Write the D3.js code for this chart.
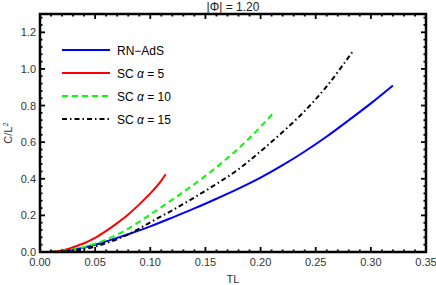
<!DOCTYPE html>
<html>
<head>
<meta charset="utf-8">
<script src="https://cdn.jsdelivr.net/npm/d3@7"></script>
<style>
  body { margin: 0; background: #fff; }
  text { font-family: "Liberation Sans", Arial, sans-serif; }
</style>
</head>
<body>
<div id="chart"></div>
<script>
// data
var tlRN   = [0.008, 0.02, 0.03, 0.04, 0.05, 0.06, 0.07, 0.08, 0.09, 0.10, 0.12, 0.14, 0.16, 0.18, 0.20, 0.22, 0.24, 0.26, 0.28, 0.30, 0.32];
var cRN    = [0.0, 0.005, 0.014, 0.025, 0.04, 0.058, 0.077, 0.097, 0.118, 0.14, 0.188, 0.238, 0.291, 0.346, 0.406, 0.474, 0.549, 0.631, 0.72, 0.812, 0.91];

var tlSC5  = [0.01, 0.02, 0.03, 0.04, 0.05, 0.06, 0.07, 0.08, 0.09, 0.10, 0.11, 0.114];
var cSC5   = [0.0, 0.008, 0.026, 0.048, 0.077, 0.115, 0.158, 0.205, 0.26, 0.32, 0.39, 0.425];

var tlSC10 = [0.01, 0.02, 0.03, 0.04, 0.05, 0.06, 0.07, 0.08, 0.09, 0.10, 0.11, 0.12, 0.13, 0.14, 0.15, 0.16, 0.17, 0.18, 0.19, 0.20, 0.213];
var cSC10  = [0.0, 0.005, 0.014, 0.027, 0.045, 0.068, 0.095, 0.128, 0.165, 0.205, 0.245, 0.286, 0.328, 0.371, 0.416, 0.463, 0.513, 0.566, 0.623, 0.684, 0.769];

var tlSC15 = [0.01, 0.02, 0.03, 0.04, 0.05, 0.06, 0.07, 0.08, 0.09, 0.10, 0.12, 0.14, 0.16, 0.18, 0.20, 0.22, 0.24, 0.26, 0.283];
var cSC15  = [0.0, 0.002, 0.007, 0.016, 0.03, 0.048, 0.07, 0.096, 0.128, 0.162, 0.228, 0.298, 0.372, 0.452, 0.55, 0.655, 0.77, 0.905, 1.091];

var seriesNames = ["RN\u2212AdS", "SC \u03b1 = 5", "SC \u03b1 = 10", "SC \u03b1 = 15"];
var xTicks = [0, 0.05, 0.10, 0.15, 0.20, 0.25, 0.30, 0.35];
var yTicks = [0, 0.2, 0.4, 0.6, 0.8, 1.0, 1.2];

var width = 436, height = 285;
var margin = {top: 14, right: 10, bottom: 33, left: 40};
var w = width - margin.left - margin.right;
var h = height - margin.top - margin.bottom;

var svg = d3.select("#chart").append("svg")
    .attr("width", width)
    .attr("height", height);

var g = svg.append("g")
    .attr("transform", "translate(" + margin.left + "," + margin.top + ")");

var x = d3.scaleLinear().domain([0, 0.35]).range([0, w]);
var y = d3.scaleLinear().domain([0, 1.3]).range([h, 0]);

var series = [
    {name: seriesNames[0], tl: tlRN,   c: cRN,   color: "#0000ff", dash: null},
    {name: seriesNames[1], tl: tlSC5,  c: cSC5,  color: "#ff0000", dash: null},
    {name: seriesNames[2], tl: tlSC10, c: cSC10, color: "#00ff00", dash: "6,4"},
    {name: seriesNames[3], tl: tlSC15, c: cSC15, color: "#000000", dash: "5,3,1.5,3"}
];

var line = d3.line()
    .x(function(d) { return x(d[0]); })
    .y(function(d) { return y(d[1]); })
    .curve(d3.curveMonotoneX);

// curves
series.forEach(function(s) {
    var pts = s.tl.map(function(t, i) { return [t, s.c[i]]; });
    g.append("path")
        .datum(pts)
        .attr("fill", "none")
        .attr("stroke", s.color)
        .attr("stroke-width", 2)
        .attr("stroke-dasharray", s.dash)
        .attr("d", line);
});

// ticks (inside, mirrored)
var xMinor = d3.range(0, 0.3501, 0.01);
var yMinor = d3.range(0, 1.3001, 0.04);

function isMajor(v, list) {
    return list.some(function(t) { return Math.abs(t - v) < 1e-6; });
}

var tickG = g.append("g").attr("stroke", "#000").attr("stroke-width", 1.8);
xMinor.forEach(function(v) {
    var len = isMajor(v, xTicks) ? 5 : 2.5;
    tickG.append("line").attr("x1", x(v)).attr("x2", x(v)).attr("y1", h).attr("y2", h - len);
    tickG.append("line").attr("x1", x(v)).attr("x2", x(v)).attr("y1", 0).attr("y2", len);
});
yMinor.forEach(function(v) {
    var len = isMajor(v, yTicks) ? 5 : 2.5;
    tickG.append("line").attr("y1", y(v)).attr("y2", y(v)).attr("x1", 0).attr("x2", len);
    tickG.append("line").attr("y1", y(v)).attr("y2", y(v)).attr("x1", w).attr("x2", w - len);
});

// frame
g.append("rect")
    .attr("x", 0).attr("y", 0)
    .attr("width", w).attr("height", h)
    .attr("fill", "none")
    .attr("stroke", "#000")
    .attr("stroke-width", 2.5);

// tick labels
g.selectAll(".xl")
    .data(xTicks)
    .enter()
    .append("text")
    .attr("x", function(d) { return x(d); })
    .attr("y", h + 14)
    .attr("text-anchor", "middle")
    .attr("font-size", "11px")
    .attr("fill", "#333")
    .text(function(d) { return d.toFixed(2); });

g.selectAll(".yl")
    .data(yTicks)
    .enter()
    .append("text")
    .attr("x", -4)
    .attr("y", function(d) { return y(d) + 4; })
    .attr("text-anchor", "end")
    .attr("font-size", "11px")
    .attr("fill", "#333")
    .text(function(d) { return d.toFixed(1); });

// axis labels
g.append("text")
    .attr("x", w / 2)
    .attr("y", h + 31)
    .attr("text-anchor", "middle")
    .attr("font-size", "11px")
    .attr("fill", "#333")
    .text("TL");

var yl = svg.append("text")
    .attr("transform", "translate(12," + (margin.top + h / 2) + ") rotate(-90)")
    .attr("text-anchor", "middle")
    .attr("font-size", "11px")
    .attr("fill", "#333");
yl.append("tspan").text("C/L");
yl.append("tspan").attr("dy", -4).attr("font-size", "7.5px").text("2");

// title
svg.append("text")
    .attr("x", margin.left + w / 2)
    .attr("y", 10.5)
    .attr("text-anchor", "middle")
    .attr("font-size", "12px")
    .attr("fill", "#222")
    .text("|\u03a6| = 1.20");

// legend
var legY = [50, 73, 96, 119];
series.forEach(function(s, i) {
    var ly = legY[i] - margin.top;
    g.append("line")
        .attr("x1", 22).attr("x2", 70)
        .attr("y1", ly).attr("y2", ly)
        .attr("stroke", s.color)
        .attr("stroke-width", 2)
        .attr("stroke-dasharray", s.dash);
    var t = g.append("text")
        .attr("x", 77)
        .attr("y", ly + 4.5)
        .attr("font-size", "12px")
        .attr("fill", "#000");
    if (i === 0) {
        t.text(s.name);
    } else {
        t.append("tspan").text("SC ");
        t.append("tspan").attr("font-style", "italic").text("\u03b1");
        t.append("tspan").text(s.name.slice(4));
    }
});
</script>
</body>
</html>
